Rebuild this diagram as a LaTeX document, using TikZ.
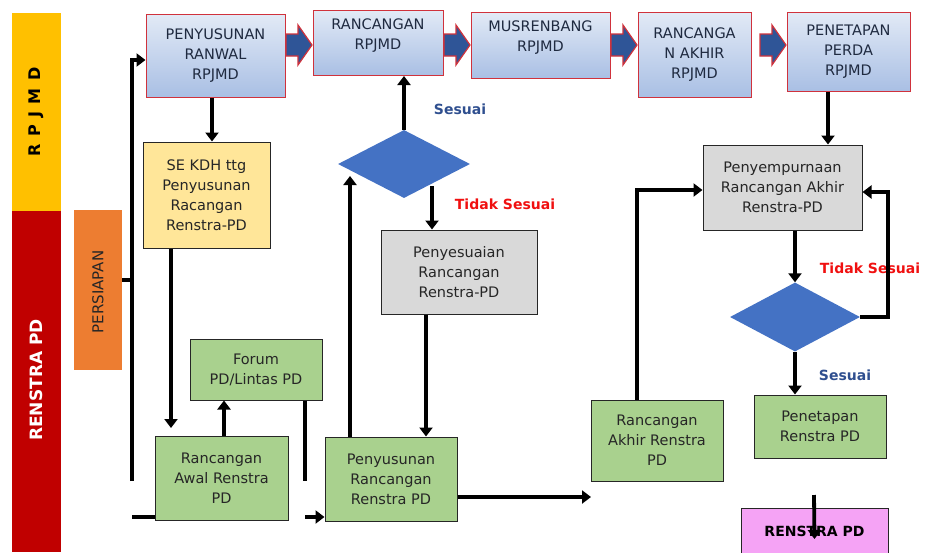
\documentclass[tikz,border=0pt]{standalone}
\usepackage{fontspec}
\setmainfont{DejaVu Sans}
\usetikzlibrary{arrows.meta,shapes.geometric}
\definecolor{ylw}{HTML}{FFC000}
\definecolor{rdbar}{HTML}{C00000}
\definecolor{orng}{HTML}{ED7D31}
\definecolor{topA}{HTML}{E2EAF6}
\definecolor{topB}{HTML}{A9BFE4}
\definecolor{topborder}{HTML}{D0323C}
\definecolor{arrblue}{HTML}{2F5597}
\definecolor{sekfill}{HTML}{FFE699}
\definecolor{grn}{HTML}{A9D18E}
\definecolor{gry}{HTML}{D9D9D9}
\definecolor{dblue}{HTML}{4472C4}
\definecolor{pink}{HTML}{F5A3F5}
\definecolor{txt}{HTML}{262626}
\definecolor{toptxt}{HTML}{1F2A40}
\definecolor{lblblue}{HTML}{2F4F8F}
\definecolor{lblred}{HTML}{F01010}
\tikzset{
  box/.style={draw=black!85, line width=1pt, inner sep=2pt, align=center,
    font=\fontsize{14.5}{20}\selectfont, text=txt},
  topbox/.style={box, draw=topborder, top color=topA, bottom color=topB, text=toptxt},
  gbox/.style={box, fill=grn},
  greybox/.style={box, fill=gry},
  blk/.style={draw=topborder, fill=arrblue, line width=1.2pt, line join=miter},
  dmd/.style={diamond, fill=dblue, draw=none, inner sep=0pt},
  conn/.style={line width=3.8pt},
  arr/.style={line width=3.8pt, -{Triangle[length=9pt,width=13pt]}},
  lbl/.style={font=\bfseries\fontsize{14}{16}\selectfont, inner sep=0pt}
}
\begin{document}
\begin{tikzpicture}[x=1pt,y=-1pt]
\useasboundingbox (0,0) rectangle (926,552);
% left bars
\node[fill=ylw, minimum width=49pt, minimum height=198pt, inner sep=0pt] (barY) at (36.5,112) {};
\node[rotate=90, font=\bfseries\fontsize{16}{18}\selectfont, text=black] (lblY) at (36.5,112) {R\hspace{7.5pt}P\hspace{7.5pt}J\hspace{7.5pt}M\hspace{7.5pt}D};
\node[fill=rdbar, minimum width=49pt, minimum height=341pt, inner sep=0pt] (barR) at (36.5,381.5) {};
\node[rotate=90, font=\bfseries\fontsize{17}{19}\selectfont, text=white] (lblR) at (36.5,380) {RENSTRA PD};
\node[fill=orng, minimum width=48pt, minimum height=160pt, inner sep=0pt] (persiapan) at (98,290) {};
\node[rotate=90, font=\fontsize{15}{17}\selectfont, text=txt] (lblP) at (98,292) {PERSIAPAN};
% top row
\node[topbox, minimum width=139pt, minimum height=83pt] (ranwal) at (215.5,55.5) {PENYUSUNAN\\RANWAL\\RPJMD};
\node[topbox, minimum width=130pt, minimum height=65pt, anchor=north] (rancangan) at (378,10) {RANCANGAN\\RPJMD\\[-2pt]};
\node[topbox, minimum width=139pt, minimum height=66pt, anchor=north] (musren) at (540.5,12) {MUSRENBANG\\RPJMD\\[-2pt]};
\node[topbox, minimum width=113pt, minimum height=85pt] (rakhir) at (694.5,54.5) {RANCANGA\\N AKHIR\\RPJMD};
\node[topbox, minimum width=123pt, minimum height=79pt] (perda) at (848.5,51.5) {PENETAPAN\\PERDA\\RPJMD};
% block arrows between top boxes
\foreach \cx in {299,457,624,773}{
  \draw[blk] (\cx,45) ++(-13,-11) -- ++(12,0) -- ++(0,-9) -- ++(14,20) -- ++(-14,20) -- ++(0,-9) -- ++(-12,0) -- cycle;
}
% other boxes
\node[box, fill=sekfill, minimum width=127pt, minimum height=106pt] (sekdh) at (206.5,195) {SE KDH ttg\\Penyusunan\\Racangan\\Renstra-PD};
\node[gbox, minimum width=132pt, minimum height=61pt] (forum) at (256,369.5) {Forum\\PD/Lintas PD};
\node[gbox, minimum width=133pt, minimum height=84pt] (awal) at (221.5,478) {Rancangan\\Awal Renstra\\PD};
\node[gbox, minimum width=132pt, minimum height=84pt] (penyus) at (391,479) {Penyusunan\\Rancangan\\Renstra PD};
\node[greybox, minimum width=156pt, minimum height=84pt] (penyes) at (459,272) {Penyesuaian\\Rancangan\\Renstra-PD};
\node[dmd, minimum width=132pt, minimum height=68pt] (d1) at (404,164) {};
\node[gbox, minimum width=132pt, minimum height=81pt] (rakhirpd) at (657,440.5) {Rancangan\\Akhir Renstra\\PD};
\node[greybox, minimum width=159pt, minimum height=85pt] (penyemp) at (782.5,187.5) {Penyempurnaan\\Rancangan Akhir\\Renstra-PD};
\node[dmd, minimum width=130pt, minimum height=69pt] (d2) at (795,317) {};
\node[gbox, minimum width=132pt, minimum height=63pt] (penetapan) at (820,426.5) {Penetapan\\Renstra PD};
\node[box, fill=pink, minimum width=147pt, minimum height=46pt, font=\bfseries\fontsize{14}{16}\selectfont, text=black] (renstra) at (814.5,531) {RENSTRA PD};
% labels
\node[lbl, text=lblblue] (s1) at (460,109) {Sesuai};
\node[lbl, text=lblred] (t1) at (505,204) {Tidak Sesuai};
\node[lbl, text=lblred] (t2) at (870,268) {Tidak Sesuai};
\node[lbl, text=lblblue] (s2) at (845,375) {Sesuai};
% connectors
\coordinate (lbot) at (132,481);
\coordinate (ltick) at (132,280);
\draw[conn] (persiapan.east |- ltick) -- (ltick);
\draw[arr] (lbot) |- (ranwal.west |- 0,60);
\coordinate (bstart) at (132,517);
\draw[conn] (bstart) -- (awal.west |- bstart);
\draw[arr] (ranwal.south -| 212,0) -- (sekdh.north -| 212,0);
\coordinate (sekend) at (171,428);
\draw[arr] (sekdh.south -| sekend) -- (sekend);
\draw[arr] (awal.north -| 224,0) -- (forum.south -| 224,0);
\coordinate (fend) at (305,481);
\draw[conn] (forum.south -| fend) -- (fend);
\coordinate (pstart) at (305,517);
\draw[arr] (pstart) -- (penyus.west |- pstart);
\coordinate (d1in) at (350,176);
\draw[arr] (penyus.north -| d1in) -- (d1in);
\draw[arr] (d1.north) -- (rancangan.south -| d1.north);
\coordinate (d1out) at (432,186);
\draw[arr] (d1out) -- (penyes.north -| d1out);
\draw[arr] (penyes.south -| 426,0) -- (penyus.north -| 426,0);
\coordinate (pend) at (591,497);
\draw[arr] (penyus.east |- pend) -- (pend);
\draw[arr] (rakhirpd.north -| 637,0) |- (penyemp.west |- 0,190);
\draw[arr] (perda.south -| 828,0) -- (penyemp.north -| 828,0);
\draw[arr] (penyemp.south -| d2.north) -- (d2.north);
\draw[arr] (d2.east) -- ++(28,0) |- (penyemp.east |- 0,192);
\draw[arr] (d2.south) -- (penetapan.north -| d2.south);
\coordinate (rtop) at (814,495);
\draw[arr] (rtop) -- (renstra.center |- 0,539);
\end{tikzpicture}
\end{document}
